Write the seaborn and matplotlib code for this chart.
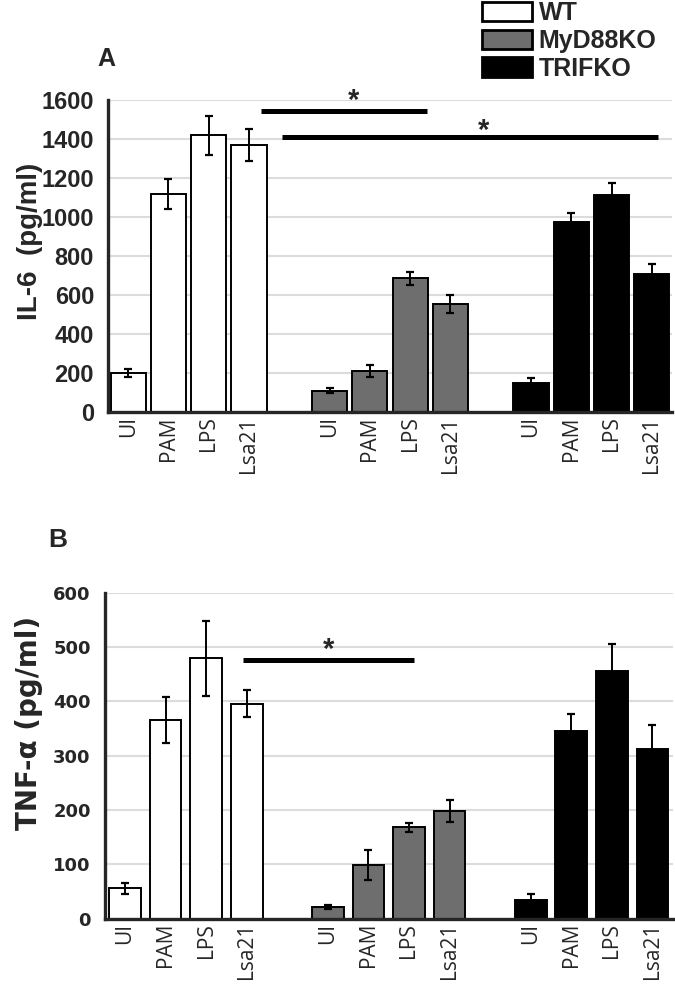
import pandas as pd
import seaborn as sns
import matplotlib.pyplot as plt
from matplotlib.patches import Patch

# ---------------- data ----------------
conditions = ["UI", "PAM", "LPS", "Lsa21"]
genotypes = ["WT", "MyD88KO", "TRIFKO"]
colors = ["white", "#6e6e6e", "black"]

il6_wt = [200, 1120, 1420, 1370]
il6_wt_err = [18, 77, 100, 83]
il6_myd = [110, 210, 685, 555]
il6_myd_err = [15, 30, 35, 45]
il6_trif = [150, 975, 1115, 710]
il6_trif_err = [26, 44, 58, 49]

tnf_wt = [56, 366, 479, 396]
tnf_wt_err = [10, 42, 69, 25]
tnf_myd = [22, 99, 168, 198]
tnf_myd_err = [4, 27, 8, 20]
tnf_trif = [34, 346, 455, 312]
tnf_trif_err = [11, 31, 50, 45]

# significance bars: (x start, x end, y, star x, star baseline y)
sig_a = [(3.29, 7.43, 1545, 5.6, 1555), (3.81, 13.16, 1410, 8.82, 1400)]
sig_b = [(2.92, 7.13, 476, 5.02, 480)]


def make_df(vals, errs):
    rows = []
    for g in range(len(genotypes)):
        for c in range(len(conditions)):
            rows.append({"pos": g * 5 + c, "geno": genotypes[g],
                         "cond": conditions[c], "val": vals[g][c], "err": errs[g][c]})
    return pd.DataFrame(rows)


def draw_panel(ax, df, width, ymax, ystep, ylabel, font, tick_size, label_size, sig, label_xy):
    sns.barplot(data=df, x="pos", y="val", hue="geno", native_scale=True, dodge=False,
                width=width, palette=dict(zip(genotypes, colors)), edgecolor="black",
                linewidth=1.4, errorbar=None, legend=False, ax=ax, zorder=2)
    ax.errorbar(df["pos"], df["val"], yerr=df["err"], fmt="none", ecolor="black",
                elinewidth=1.4, capsize=2.8, capthick=1.6, zorder=3)
    ax.set_xlim(-0.5, 13.5)
    ax.set_ylim(0, ymax)
    ax.set_yticks(range(0, ymax + 1, ystep))
    ax.set_yticklabels([str(v) for v in range(0, ymax + 1, ystep)],
                       family=font, fontweight="bold", fontsize=tick_size)
    ax.set_xticks(df["pos"])
    ax.set_xticklabels(df["cond"], rotation=90, family="Open Sans", fontsize=15)
    ax.tick_params(axis="x", length=0, pad=3)
    ax.tick_params(axis="y", direction="out", length=6, width=2, pad=4)
    ax.yaxis.grid(True, color="#dcdcdc", lw=1.5, zorder=0)
    ax.set_axisbelow(True)
    sns.despine(ax=ax)
    ax.spines["left"].set_linewidth(2.4)
    ax.spines["bottom"].set_linewidth(2.4)
    ax.set_xlabel("")
    ax.set_ylabel(ylabel, family=font, fontweight="bold", fontsize=label_size)
    ax.yaxis.set_label_coords(*label_xy)
    for x0, x1, y, sx, sy in sig:
        ax.plot([x0, x1], [y, y], color="black", lw=3.6, clip_on=False, solid_capstyle="butt")
        ax.text(sx, sy, "*", ha="center", va="baseline", fontsize=21, fontweight="bold",
                family="Liberation Sans", clip_on=False)


sns.set_style("white")
plt.rcParams["font.family"] = ["Liberation Sans", "DejaVu Sans"]

fig = plt.figure(figsize=(6.75, 9.88), dpi=100)
ax_a = fig.add_axes([108 / 675, 1 - 412 / 988, 564 / 675, 312 / 988])
ax_b = fig.add_axes([104.7 / 675, 1 - 918.7 / 988, 568 / 675, 326 / 988])

df_a = make_df([il6_wt, il6_myd, il6_trif], [il6_wt_err, il6_myd_err, il6_trif_err])
df_b = make_df([tnf_wt, tnf_myd, tnf_trif], [tnf_wt_err, tnf_myd_err, tnf_trif_err])

draw_panel(ax_a, df_a, 0.87, 1600, 200, "IL-6  (pg/ml)", "Liberation Sans", 17, 20,
           sig_a, (-0.115, 0.546))
draw_panel(ax_b, df_b, 0.78, 600, 100, "TNF-α (pg/ml)", "DejaVu Sans", 13, 20,
           sig_b, (-0.109, 0.599))

fig.text(106 / 675, 1 - 59 / 988, "A", ha="center", va="center", fontsize=18, fontweight="bold")
fig.text(58 / 675, 1 - 540 / 988, "B", ha="center", va="center", fontsize=19, fontweight="bold")

handles = [Patch(facecolor=c, edgecolor="black", linewidth=2) for c in colors]
fig.legend(handles, genotypes, loc="upper left", bbox_to_anchor=(481 / 675, 1.0),
           frameon=False, borderpad=0.05, borderaxespad=0, handlelength=2.0,
           handleheight=0.8, handletextpad=0.25, labelspacing=0.15,
           prop={"family": "Liberation Sans", "weight": "bold", "size": 18})

fig.savefig("out.png", dpi=100)
